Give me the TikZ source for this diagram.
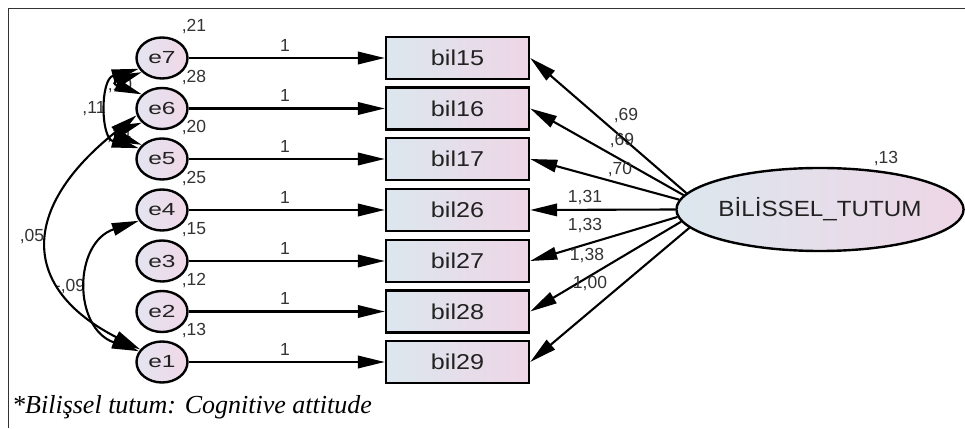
\documentclass[tikz,border=0pt]{standalone}
\usepackage{fontspec}
\setmainfont{Liberation Sans}
\newfontfamily\myboxfont[FakeStretch=1.17]{Liberation Sans}
\newfontfamily\myefont[FakeStretch=1.4]{Liberation Sans}
\newfontfamily\mylatfont[FakeStretch=1.1]{Liberation Sans}
\newfontfamily\mycapfont{Liberation Serif}
\usetikzlibrary{shapes.geometric,arrows.meta}
\definecolor{bL}{HTML}{DCE7EE}
\definecolor{bR}{HTML}{EED6E6}
\definecolor{eL}{HTML}{E4E4F0}
\definecolor{eR}{HTML}{F0D8E8}
\definecolor{frameC}{HTML}{333333}
\definecolor{txtC}{HTML}{222222}
\tikzset{
  errv/.style={ellipse, draw, line width=2.4pt, minimum width=51pt, minimum height=41pt, inner sep=0pt, left color=eL, right color=eR, text=txtC, font=\myefont\fontsize{17.5}{17.5}\selectfont},
  obsv/.style={rectangle, draw, line width=2.4pt, minimum width=143pt, minimum height=42pt, inner sep=0pt, left color=bL, right color=bR, text=txtC, font=\myboxfont\fontsize{21.5}{21.5}\selectfont},
  latv/.style={ellipse, draw, line width=2.4pt, minimum width=286pt, minimum height=83pt, inner sep=0pt, left color=bL, right color=bR, text=txtC, font=\mylatfont\fontsize{22}{22}\selectfont},
  lbl/.style={font=\fontsize{17.5}{17.5}\selectfont, inner sep=0pt, text=black!80},
  arr/.style={line width=2.1pt, -{Triangle[length=27pt,width=12.5pt]}},
  cov/.style={line width=2.1pt, {Triangle[length=27pt,width=12.5pt]}-{Triangle[length=27pt,width=12.5pt]}}
}
\begin{document}
\begin{tikzpicture}[x=1pt,y=1pt]
\useasboundingbox (0,0) rectangle (965,428);
\draw[frameC, line width=1.5pt] (8.5,0) -- (8.5,419.5) -- (965,419.5);

% error terms
\node[errv] (e7) at (162,370) {e7};
\node[errv] (e6) at (162,319.5) {e6};
\node[errv] (e5) at (162,269) {e5};
\node[errv] (e4) at (162,218) {e4};
\node[errv] (e3) at (162,167) {e3};
\node[errv] (e2) at (162,116.5) {e2};
\node[errv] (e1) at (162,66) {e1};

% observed
\node[obsv] (b15) at (457.5,370) {bil15};
\node[obsv] (b16) at (457.5,319.5) {bil16};
\node[obsv] (b17) at (457.5,269) {bil17};
\node[obsv] (b26) at (457.5,218) {bil26};
\node[obsv] (b27) at (457.5,167) {bil27};
\node[obsv] (b28) at (457.5,116.5) {bil28};
\node[obsv] (b29) at (457.5,66) {bil29};

% latent
\node[latv] (lat) at (820,218.5) {BİLİSSEL\_TUTUM};
\node[lbl] (vlat) at (886,269) {,13};

% variance labels
\node[lbl] (v7) at (194,401) {,21};
\node[lbl] (v6) at (194,350.5) {,28};
\node[lbl] (v5) at (194,300) {,20};
\node[lbl] (v4) at (194,249) {,25};
\node[lbl] (v3) at (194,198) {,15};
\node[lbl] (v2) at (194,147.5) {,12};
\node[lbl] (v1) at (194,97) {,13};

% error -> indicator
\foreach \e/\b/\y in {e7/b15/370,e6/b16/319.5,e5/b17/269,e4/b26/218,e3/b27/167,e2/b28/116.5,e1/b29/66}{
  \draw[arr] (\e) -- (\b);
  \node[lbl] (one\e) at (285,\y+13) {1};
}

% loadings
\draw[arr] (lat.173) -- (b15.east);
\draw[arr] (lat.174.5) -- (b16.east);
\draw[arr] (lat.176.7) -- (b17.east);
\draw[arr] (lat.180) -- (b26.east);
\draw[arr] (lat.183.3) -- (b27.east);
\draw[arr] (lat.185.5) -- (b28.east);
\draw[arr] (lat.188.5) -- (b29.east);
\node[lbl] (l15) at (626,312) {,69};
\node[lbl] (l16) at (622,287) {,69};
\node[lbl] (l17) at (620,258) {,70};
\node[lbl] (l26) at (585,230) {1,31};
\node[lbl] (l27) at (585,202) {1,33};
\node[lbl] (l28) at (587,172) {1,38};
\node[lbl] (l29) at (590,144) {1,00};

% covariance labels
\node[lbl] (c76) at (120,342) {,10};
\node[lbl] (c75) at (94,319) {,11};
\node[lbl] (c65) at (119,292) {,14};
\node[lbl] (c61) at (32,191) {,05};
\node[lbl] (c41) at (70,141) {-,09};

% covariances
\draw[cov] (e7.215) .. controls +(200:30) and +(160:30) .. (e6.145);
\draw[cov] (e6.215) .. controls +(200:30) and +(160:30) .. (e5.145);
\draw[cov] (e7.205) .. controls +(195:40) and +(165:40) .. (e5.155);
\draw[cov] (e6.195) .. controls (20,220) and (20,140) .. (e1.150);
\draw[cov] (e4.205) .. controls (73,185) and (73,100) .. (e1.155);

% caption
\node[anchor=base west, inner sep=0pt, font=\mycapfont\itshape\fontsize{26}{26}\selectfont] (cap) at (12,15) {*Bilişsel tutum: Cognitive attitude};
\end{tikzpicture}
\end{document}
